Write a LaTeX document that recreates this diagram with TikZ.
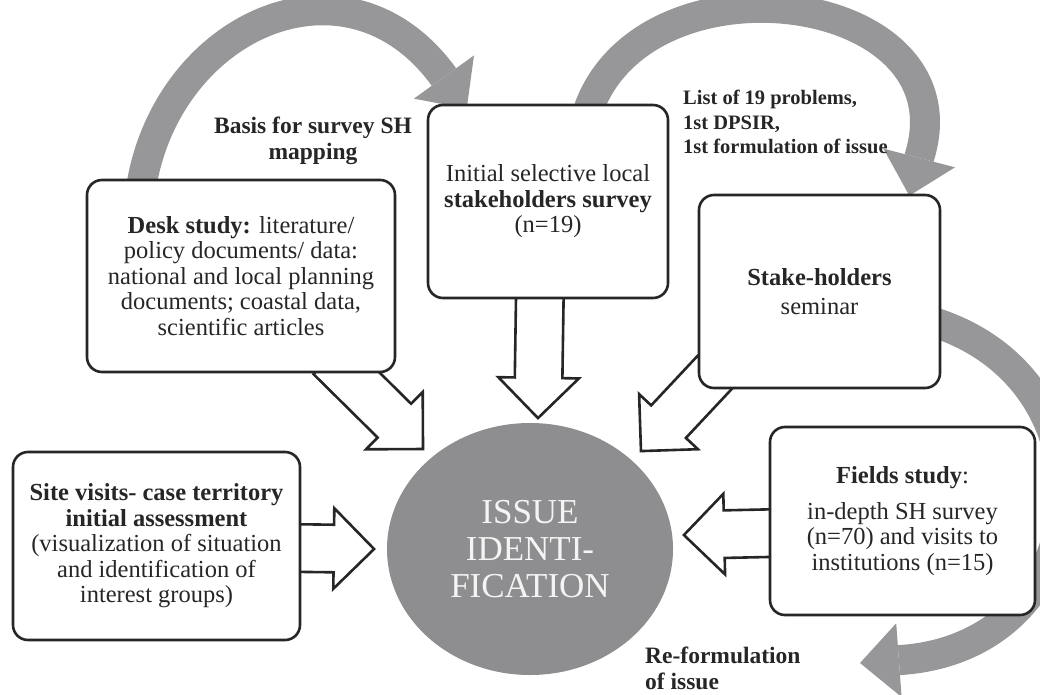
\documentclass[tikz,border=0pt]{standalone}
\usepackage{fontspec}
\setmainfont{Liberation Serif}
\usepackage{xcolor}
\usetikzlibrary{arrows.meta,positioning,calc,shapes.geometric,shapes.arrows,backgrounds}
\definecolor{inkgray}{HTML}{262626}
\definecolor{bandgray}{HTML}{97979A}
\definecolor{issuegray}{HTML}{8E8E90}
\definecolor{issuetext}{HTML}{F4F4F4}
\tikzset{
  stage/.style={draw=inkgray, line width=2.6pt, rounded corners=15pt, fill=white, align=center, inner sep=0pt, text=inkgray, font=\fontsize{24.5}{25.5}\selectfont},
  issue/.style={ellipse, fill=issuegray, inner sep=0pt, minimum width=286pt, minimum height=252pt, align=center, text=issuetext, font=\fontsize{35}{37}\selectfont},
  note/.style={align=center, inner sep=0pt, text=inkgray, font=\bfseries\fontsize{23.5}{26}\selectfont},
  smallnote/.style={note, align=left, anchor=west, font=\bfseries\fontsize{20.5}{24.5}\selectfont},
  hollow/.style={single arrow, draw=inkgray, line width=2.6pt, fill=white, inner xsep=0pt, inner ysep=22.5pt, single arrow head extend=16.5pt, single arrow tip angle=90, anchor=tail},
  cycleband/.style={draw=bandgray, line width=30pt, -{Triangle[length=39pt 0 0, width=74pt 0 0, line width=0pt 0 0]}}
}
% hollow block arrow between two named points
\newcommand\fatarrow[3]{%
  \path let \p1=($(#3)-(#2)$) in
    node[hollow, rotate={atan2(\y1,\x1)}, minimum height={veclen(\x1,\y1)}] (#1) at (#2) {};%
}

\begin{document}
\begin{tikzpicture}[x=1pt,y=1pt]
  \useasboundingbox (0,0) rectangle (1040,-695);

  \node[stage, minimum width=308pt, minimum height=192pt] (desk) at (241,-276) {\textbf{Desk study:} literature/\\policy documents/ data:\\national and local planning\\documents; coastal data,\\scientific articles};
  \node[stage, minimum width=240pt, minimum height=193pt] (survey) at (548,-201.5) {Initial selective local\\\textbf{stakeholders survey}\\(n=19)};
  \node[stage, minimum width=241pt, minimum height=193pt] (seminar) at (819.5,-291.5) {\textbf{Stake-holders}\\[4pt]seminar};
  \node[stage, minimum width=265pt, minimum height=188pt] (fields) at (902.5,-521) {\textbf{Fields study}:\\[10pt]in-depth SH survey\\(n=70) and visits to\\institutions (n=15)};
  \node[stage, minimum width=287pt, minimum height=188pt] (site) at (156.5,-546) {\textbf{Site visits- case territory}\\\textbf{initial assessment}\\(visualization of situation\\and identification of\\interest groups)};

  \node[issue] (issue) at (530,-549) {ISSUE\\IDENTI-\\FICATION};

  \node[note] (basis) at (313,-141) {Basis for survey SH\\mapping};
  \node[smallnote] (problems) at (683,-122) {List of 19 problems,\\1st DPSIR,\\1st formulation of issue};
  \node[note, align=left, anchor=west] (reform) at (645,-668) {Re-formulation\\of issue};

  \begin{pgfonlayer}{background}
    % grey cycle
    \coordinate (basishead) at ($(survey.north west)+(17,27)$);
    \coordinate (problemshead) at ($(seminar.north east)+(-21,40)$);
    \coordinate (reformhead) at (901,-660);
    \coordinate (refotip) at (860,-663);
    \draw[cycleband] ([xshift=56pt,yshift=-5pt]desk.north west) to[out=80, in=126, looseness=1.3] (basishead) -- ([xshift=40pt,yshift=-5pt]survey.north west);
    \draw[cycleband] ([xshift=162pt,yshift=-5pt]survey.north west) to[out=70, in=74, looseness=1.3] (problemshead) -- ([xshift=-32pt,yshift=-2pt]seminar.north east);
    \draw[cycleband] ([xshift=-10pt,yshift=-30pt]seminar.east) to[out=-17, in=4, looseness=1.5] (reformhead) -- (refotip);

    % inputs to the issue
    \coordinate (deskout) at ($(desk.south east)+(-67,17)$);
    \coordinate (deskin) at ($(issue.135)+(-13,6)$);
    \coordinate (surveyout) at ($(survey.south)+(-8,15)$);
    \coordinate (surveyin) at ($(issue.north)+(8,6)$);
    \coordinate (seminarout) at ($(seminar.south west)+(18,18)$);
    \coordinate (seminarin) at ($(issue.45)+(17,4)$);
    \coordinate (siteout) at ($(site.east)+(-8,-2)$);
    \coordinate (sitein) at ($(issue.west)+(-14,0)$);
    \coordinate (fieldsout) at ($(fields.west)+(8,-12)$);
    \coordinate (fieldsin) at ($(issue.east)+(12,14)$);
    \fatarrow{deskarrow}{deskout}{deskin}
    \fatarrow{surveyarrow}{surveyout}{surveyin}
    \fatarrow{seminararrow}{seminarout}{seminarin}
    \fatarrow{sitearrow}{siteout}{sitein}
    \fatarrow{fieldsarrow}{fieldsout}{fieldsin}
  \end{pgfonlayer}
\end{tikzpicture}
\end{document}
